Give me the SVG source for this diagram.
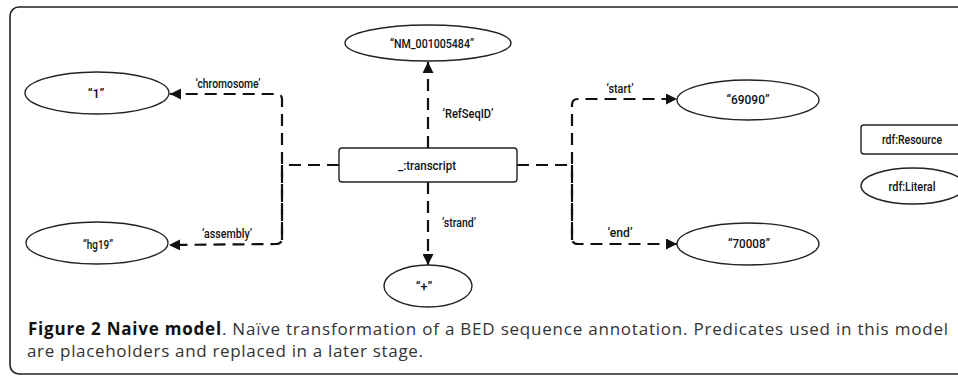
<svg xmlns="http://www.w3.org/2000/svg" width="958" height="377" viewBox="0 0 958 377">
<defs>
<style>
.lbl{font-family:Roboto,"Liberation Sans",sans-serif;font-size:12.5px;font-weight:500;fill:#111;text-anchor:middle}
.shape{fill:#fff;stroke:#222;stroke-width:1.4}
.edge{fill:none;stroke:#111;stroke-width:2.2;stroke-dasharray:12 7}
.cap{font-family:"Open Sans","Noto Sans",sans-serif;font-size:17px;fill:#333}
</style>
<marker id="arr" viewBox="0 0 10 10" refX="10" refY="5" markerWidth="12" markerHeight="11" markerUnits="userSpaceOnUse" orient="auto">
<path d="M0,0 L10,5 L0,10 z" fill="#111"/>
</marker>
</defs>
<rect x="10" y="7" width="970" height="367" rx="9" fill="#fff" stroke="#222" stroke-width="1.6"/>
<g id="connectors">
<path class="edge" d="M339,165 L286,165"/>
<path class="edge" d="M282,240 L282,99 Q282,94 276,94 L170,94" marker-end="url(#arr)"/>
<path class="edge" d="M282,165 L282,238 Q282,244 276,244 L169,245" marker-end="url(#arr)"/>
<path class="edge" d="M517,165 L572,165"/>
<path class="edge" d="M572,240 L572,105 Q572,99 578,99 L677,99" marker-end="url(#arr)"/>
<path class="edge" d="M572,165 L572,238 Q572,244 578,244 L677,244" marker-end="url(#arr)"/>
<path class="edge" d="M428,148 L428,62" marker-end="url(#arr)"/>
<path class="edge" d="M428,182 L428,265" marker-end="url(#arr)"/>
<text class="lbl" x="228" y="88" textLength="65" lengthAdjust="spacingAndGlyphs">‘chromosome’</text>
<text class="lbl" x="227" y="238" textLength="50" lengthAdjust="spacingAndGlyphs">‘assembly’</text>
<text class="lbl" x="468" y="118" textLength="51" lengthAdjust="spacingAndGlyphs">‘RefSeqID’</text>
<text class="lbl" x="459" y="227" textLength="34" lengthAdjust="spacingAndGlyphs">‘strand’</text>
<text class="lbl" x="620" y="93" textLength="27" lengthAdjust="spacingAndGlyphs">‘start’</text>
<text class="lbl" x="620" y="237" textLength="25" lengthAdjust="spacingAndGlyphs">‘end’</text>
</g>
<g id="transcript">
<rect class="shape" x="339" y="148" width="178" height="34" rx="3"/>
<text class="lbl" x="427" y="170" textLength="58" lengthAdjust="spacingAndGlyphs">_:transcript</text>
</g>
<g id="refseq">
<ellipse class="shape" cx="428" cy="43" rx="83" ry="18"/>
<text class="lbl" x="432" y="48" textLength="84" lengthAdjust="spacingAndGlyphs">“NM_001005484”</text>
</g>
<g id="chrom">
<ellipse class="shape" cx="97" cy="93" rx="72" ry="21"/>
<text class="lbl" x="96" y="98">“1”</text>
</g>
<g id="hg19">
<ellipse class="shape" cx="97" cy="243" rx="71" ry="21"/>
<text class="lbl" x="98" y="249" textLength="30" lengthAdjust="spacingAndGlyphs">“hg19”</text>
</g>
<g id="plus">
<ellipse class="shape" cx="428" cy="286" rx="44" ry="21"/>
<text class="lbl" x="424" y="291">“+”</text>
</g>
<g id="start">
<ellipse class="shape" cx="748" cy="100" rx="71" ry="20"/>
<text class="lbl" x="748" y="104" textLength="43" lengthAdjust="spacingAndGlyphs">“69090”</text>
</g>
<g id="end">
<ellipse class="shape" cx="748" cy="244" rx="71" ry="21"/>
<text class="lbl" x="749" y="248" textLength="42" lengthAdjust="spacingAndGlyphs">“70008”</text>
</g>
<g id="legend-resource">
<rect class="shape" x="861" y="125" width="110" height="29" rx="3"/>
<text class="lbl" x="912" y="144" textLength="60" lengthAdjust="spacingAndGlyphs">rdf:Resource</text>
</g>
<g id="legend-literal">
<ellipse class="shape" cx="913" cy="186" rx="52" ry="18"/>
<text class="lbl" x="912" y="191" textLength="47" lengthAdjust="spacingAndGlyphs">rdf:Literal</text>
</g>
<text class="cap" x="28" y="335" textLength="920"><tspan font-weight="bold" fill="#111">Figure 2 Naive model</tspan>. Naïve transformation of a BED sequence annotation. Predicates used in this model</text>
<text class="cap" x="27" y="357" textLength="396">are placeholders and replaced in a later stage.</text>
</svg>
